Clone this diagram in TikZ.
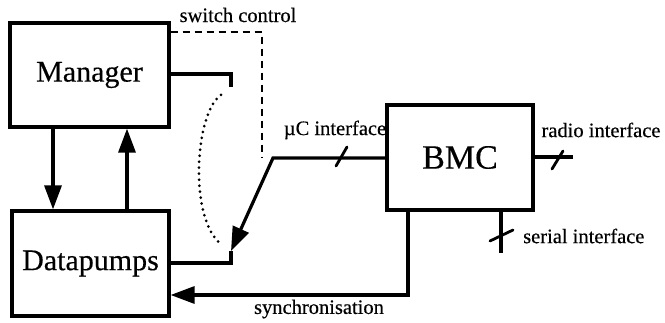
\documentclass[tikz,border=0pt]{standalone}
\usepackage{fontspec}
\setmainfont{Liberation Serif}
\newfontfamily\thickserif{Liberation Serif}[FakeBold=0.4]
\usetikzlibrary{arrows.meta}
\tikzset{
  box/.style={draw, line width=3.2pt, inner sep=0pt, font=\thickserif\fontsize{30}{34}\selectfont},
  wire/.style={line width=3.2pt},
  arr/.style={wire, -{Triangle[length=24pt,width=17pt]}},
  lbl/.style={inner sep=0pt, font=\thickserif\fontsize{20.5}{24}\selectfont},
  slash/.style={line width=2.8pt, line cap=round},
  ctrl/.style={line width=2.3pt, dash pattern=on 7pt off 5pt},
  dotline/.style={line width=3pt, line cap=round, dash pattern=on 0pt off 6pt},
}
\begin{document}
\begin{tikzpicture}[x=1pt,y=-1pt]
\useasboundingbox (0,0) rectangle (665,323);
\node[box, minimum width=159pt, minimum height=104pt] (man) at (89.5,75) {Manager};
\node[box, minimum width=157pt, minimum height=105pt] (dp) at (90.5,263.5) {Datapumps};
\node[box, minimum width=146pt, minimum height=105pt, font=\thickserif\fontsize{34}{38}\selectfont] (bmc) at (460,157.5) {BMC};
% manager <-> datapumps
\draw[arr] (man.south -| 53,0) -- (dp.north -| 53,0);
\draw[arr] (dp.north -| 127,0) -- (man.south -| 127,0);
% switch control
\coordinate (sc1) at (262,32);
\coordinate (sc2) at (262,158);
\draw[ctrl] (man.east |- sc1) -- (sc1) -- (sc2);
\node[lbl] (sclbl) at (238,15) {switch control};
% switch from manager
\coordinate (mt) at (231,74);
\coordinate (mtb) at (231,87);
\draw[wire] (man.east |- mt) -- (mt) -- (mtb);
% switch from datapumps
\coordinate (dt) at (231,263);
\coordinate (dtb) at (231,251);
\draw[wire] (dp.east |- dt) -- (dt) -- (dtb);
% dotted arc
\coordinate (d1) at (221,95);
\coordinate (d2) at (222,245);
\draw[dotline] (d1) .. controls (195,112) and (188,220) .. (d2);
% uC interface
\coordinate (bend) at (273,158);
\draw[arr] (bmc.west |- bend) -- (bend) -- (dtb);
\draw[slash] (336,166) -- (347,147);
\node[lbl] (uclbl) at (335,130) {µC interface};
% radio
\coordinate (rend) at (573,157);
\draw[wire] (bmc.east |- rend) -- (rend);
\draw[slash] (552,169) -- (563,151);
\node[lbl] (rlbl) at (601,130) {radio interface};
% serial
\coordinate (send) at (501,253);
\draw[wire] (bmc.south -| send) -- (send);
\draw[slash] (490,241) -- (513,230);
\node[lbl, anchor=west] (slbl) at (523,236) {serial interface};
% synchronisation
\coordinate (sy1) at (408,295);
\draw[arr] (bmc.south -| sy1) -- (sy1) -- (dp.east |- sy1);
\node[lbl] (sylbl) at (319,309) {synchronisation};
\end{tikzpicture}
\end{document}
